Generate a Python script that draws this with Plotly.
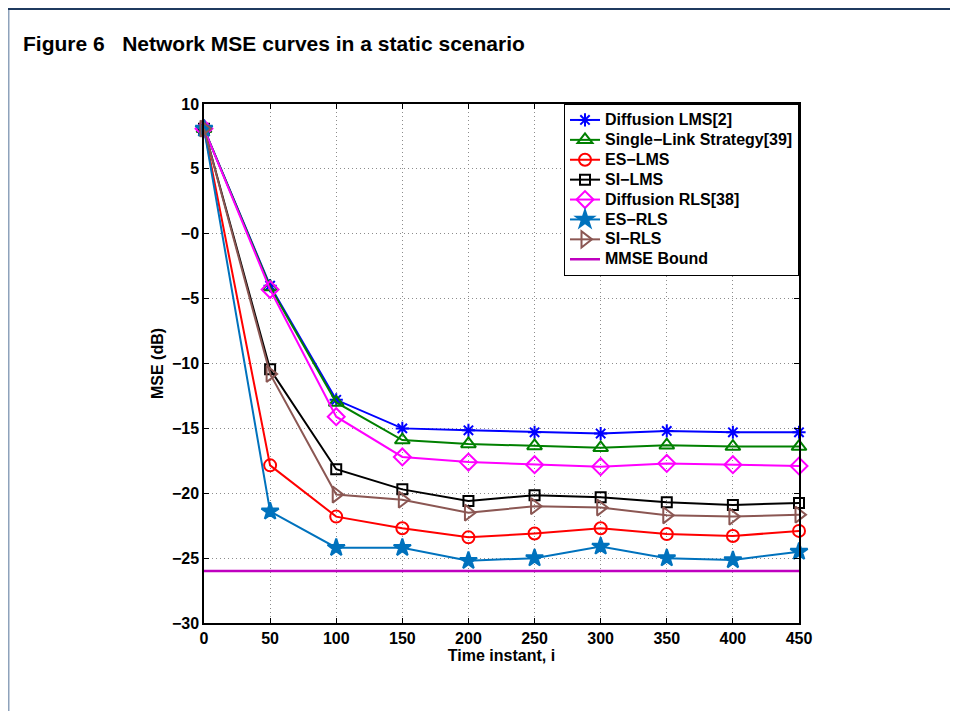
import plotly.graph_objects as go

# ---- data ----
time_instant = [0, 50, 100, 150, 200, 250, 300, 350, 400, 450]
diffusion_lms = [8.1, -4.0, -12.8, -15.0, -15.15, -15.3, -15.4, -15.2, -15.3, -15.3]
single_link = [8.1, -4.1, -13.0, -15.9, -16.2, -16.35, -16.5, -16.3, -16.4, -16.4]
es_lms = [8.1, -17.85, -21.8, -22.7, -23.4, -23.1, -22.7, -23.15, -23.3, -22.9]
si_lms = [8.1, -10.45, -18.15, -19.7, -20.6, -20.15, -20.3, -20.7, -20.9, -20.75]
diffusion_rls = [8.1, -4.3, -14.1, -17.2, -17.6, -17.8, -17.95, -17.7, -17.8, -17.9]
es_rls = [8.1, -21.4, -24.2, -24.2, -25.2, -25.0, -24.1, -25.0, -25.15, -24.5]
si_rls = [8.1, -10.8, -20.1, -20.5, -21.5, -21.0, -21.1, -21.7, -21.8, -21.65]
mmse_x = [0, 450]
mmse_bound = [-26.0, -26.0]

y_tickvals = [10, 5, 0, -5, -10, -15, -20, -25, -30]
y_ticktext = ["10", "5", "\u22120", "\u22125", "\u221210", "\u221215", "\u221220", "\u221225", "\u221230"]
x_tickvals = [0, 50, 100, 150, 200, 250, 300, 350, 400, 450]

series_names = ["Diffusion LMS[2]", "Single\u2212Link Strategy[39]", "ES\u2212LMS", "SI\u2212LMS",
                "Diffusion RLS[38]", "ES\u2212RLS", "SI\u2212RLS"]
series_values = [diffusion_lms, single_link, es_lms, si_lms, diffusion_rls, es_rls, si_rls]
series_colors = ["#0000ff", "#008000", "#ff0000", "#000000", "#ff00ff", "#0072bd", "#8b5753"]
series_symbols = ["asterisk-open", "triangle-up-open", "circle-open", "square-open",
                  "diamond-open", "star", "triangle-right-open"]
series_sizes = [11, 13, 12, 10, 13, 13, 14]
mmse_name = "MMSE Bound"

FONT = "Liberation Sans, Arial, Helvetica, sans-serif"
LEG_SPAN = '<span style="font-size:16px">{}</span>'

fig = go.Figure()
for name, vals, color, sym, size in zip(series_names, series_values, series_colors,
                                        series_symbols, series_sizes):
    fig.add_trace(go.Scatter(
        x=time_instant, y=vals, name=LEG_SPAN.format(name), mode="lines+markers",
        line=dict(color=color, width=2),
        marker=dict(symbol=sym, size=size, color=color,
                    line=dict(color=color, width=2)),
        cliponaxis=False,
    ))
fig.add_trace(go.Scatter(
    x=mmse_x, y=mmse_bound, name=LEG_SPAN.format(mmse_name), mode="lines",
    line=dict(color="#bf00bf", width=2.5),
))

# page is offset by the 8px body margin, so the figure is laid out 8px smaller
W, H = 950, 703
L, R, T, B = 196, 159, 96, 88
pw, ph = W - L - R, H - T - B

def px_x(p):
    return (p - L) / pw

def px_y(p):
    return 1 + (T - p) / ph

fig.update_layout(
    width=W, height=H,
    margin=dict(l=L, r=R, t=T, b=B),
    paper_bgcolor="white", plot_bgcolor="white",
    font=dict(family=FONT, size=16, color="black", weight="bold"),
    showlegend=True,
    legend=dict(
        x=1, y=1, xanchor="right", yanchor="top",
        bgcolor="white", bordercolor="black", borderwidth=1,
        font=dict(family=FONT, size=13, color="black", weight="bold"),
        tracegroupgap=0,
    ),
    annotations=[dict(
        text="Figure 6\u00a0\u00a0\u00a0Network MSE curves in a static scenario",
        xref="paper", yref="paper", x=px_x(13), y=px_y(35),
        xanchor="left", yanchor="middle", showarrow=False,
        font=dict(family=FONT, size=21, color="black", weight="bold"),
    )],
    shapes=[
        dict(type="line", xref="paper", yref="paper",
             x0=px_x(0), x1=px_x(W), y0=px_y(1), y1=px_y(1),
             line=dict(color="#1f3a5f", width=2)),
        dict(type="line", xref="paper", yref="paper",
             x0=px_x(0.5), x1=px_x(0.5), y0=px_y(2), y1=px_y(H),
             line=dict(color="#8ea2bb", width=2)),
    ],
)

fig.update_xaxes(
    range=[0, 450], tickvals=x_tickvals,
    title=dict(text="Time instant, i", font=dict(size=16, weight="bold"), standoff=1),
    showline=True, linecolor="black", linewidth=1.5, mirror="ticks",
    ticks="inside", ticklen=5, tickcolor="black",
    showgrid=True, gridcolor="#8c8c8c", griddash="1px,3px", gridwidth=1,
    zeroline=False, tickfont=dict(size=16, weight="bold"),
)
fig.update_yaxes(
    range=[-30, 10], tickvals=y_tickvals, ticktext=y_ticktext,
    title=dict(text="MSE (dB)", font=dict(size=16, weight="bold"), standoff=4),
    showline=True, linecolor="black", linewidth=1.5, mirror="ticks",
    ticks="inside", ticklen=5, tickcolor="black",
    showgrid=True, gridcolor="#8c8c8c", griddash="1px,3px", gridwidth=1,
    zeroline=False, tickfont=dict(size=16, weight="bold"),
)

fig.write_html("out.html")
